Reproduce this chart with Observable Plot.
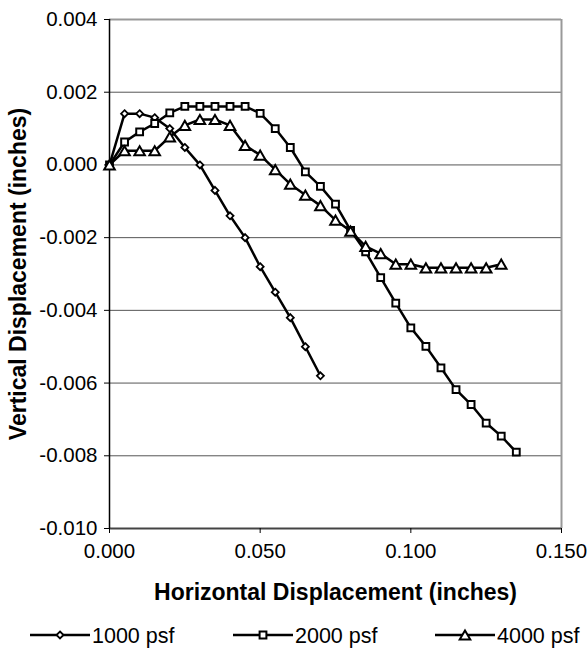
<!DOCTYPE html>
<html>
<head>
<meta charset="utf-8">
<script src="https://cdn.jsdelivr.net/npm/d3@7"></script>
<script src="https://cdn.jsdelivr.net/npm/@observablehq/plot@0.6"></script>
<style>
  body { margin: 0; background: #fff; }
  #chart { width: 587px; }
  .legend { font-family: "Liberation Sans", Arial, sans-serif; }
</style>
</head>
<body>
<div id="chart"></div>
<script>
// ---- Data ----
const seriesNames = ["1000 psf", "2000 psf", "4000 psf"];

const x1000 = [0, 0.005, 0.010, 0.015, 0.020, 0.025, 0.030, 0.035, 0.040, 0.045, 0.050, 0.055, 0.060, 0.065, 0.070];
const y1000 = [0, 0.00141, 0.00141, 0.0013, 0.001, 0.00048, 0.0, -0.0007, -0.0014, -0.0020, -0.0028, -0.0035, -0.0042, -0.0050, -0.0058];

const x2000 = [0, 0.005, 0.010, 0.015, 0.020, 0.025, 0.030, 0.035, 0.040, 0.045, 0.050, 0.055, 0.060, 0.065, 0.070,
               0.075, 0.080, 0.085, 0.090, 0.095, 0.100, 0.105, 0.110, 0.115, 0.120, 0.125, 0.130, 0.135];
const y2000 = [0, 0.00063, 0.00091, 0.00114, 0.00143, 0.00161, 0.00161, 0.00161, 0.00161, 0.00161, 0.00142, 0.001, 0.00048, -0.00019, -0.00059,
               -0.00108, -0.0018, -0.00239, -0.0031, -0.0038, -0.00448, -0.00499, -0.00558, -0.00618, -0.00659, -0.0071, -0.00746, -0.0079];

const x4000 = [0, 0.005, 0.010, 0.015, 0.020, 0.025, 0.030, 0.035, 0.040, 0.045, 0.050, 0.055, 0.060, 0.065, 0.070,
               0.075, 0.080, 0.085, 0.090, 0.095, 0.100, 0.105, 0.110, 0.115, 0.120, 0.125, 0.130];
const y4000 = [0, 0.00039, 0.00039, 0.00039, 0.00077, 0.00109, 0.00125, 0.00125, 0.00109, 0.00054, 0.00027, -0.00013, -0.00053, -0.00083, -0.00112,
               -0.00152, -0.00182, -0.00224, -0.00244, -0.00273, -0.00273, -0.00283, -0.00283, -0.00283, -0.00283, -0.00283, -0.00273];

const xTicks = [0, 0.05, 0.10, 0.15];
const yTicks = [0.004, 0.002, 0, -0.002, -0.004, -0.006, -0.008, -0.010];
const gridTicks = [0.002, 0, -0.002, -0.004, -0.006, -0.008];
const xTitle = "Horizontal Displacement (inches)";
const yTitle = "Vertical Displacement (inches)";

// ---- Build ----
const toRows = (xs, ys, s) => xs.map((x, i) => ({x, y: ys[i], s}));
const d1 = toRows(x1000, y1000, seriesNames[0]);
const d2 = toRows(x2000, y2000, seriesNames[1]);
const d3s = toRows(x4000, y4000, seriesNames[2]);

const diamondSym = {draw(ctx) { const r = 3.5; ctx.moveTo(0, -r); ctx.lineTo(r, 0); ctx.lineTo(0, r); ctx.lineTo(-r, 0); ctx.closePath(); }};
const squareSym = {draw(ctx) { const r = 3.4; ctx.moveTo(-r, -r); ctx.lineTo(r, -r); ctx.lineTo(r, r); ctx.lineTo(-r, r); ctx.closePath(); }};
const triangleSym = {draw(ctx) { const w = 5.3, h = 4.6; ctx.moveTo(0, -h); ctx.lineTo(w, h); ctx.lineTo(-w, h); ctx.closePath(); }};

const fmt = d => d.toFixed(3);
const font = "'Liberation Sans', Arial, sans-serif";

const lineOpts = {x: "x", y: "y", stroke: "#000", strokeWidth: 2.5};
const dotOpts = (sym, sw) => ({x: "x", y: "y", symbol: sym, fill: "#fff", stroke: "#000", strokeWidth: sw, r: 4});

const plot = Plot.plot({
  width: 587,
  height: 610,
  marginLeft: 109,
  marginRight: 26,
  marginTop: 19,
  marginBottom: 82,
  style: {fontFamily: font, fontSize: "20.5px", color: "#000", background: "#fff"},
  x: {domain: [0, 0.15]},
  y: {domain: [-0.010, 0.004]},
  marks: [
    Plot.ruleY(gridTicks, {stroke: "#555", strokeWidth: 1}),
    Plot.ruleY([0.004], {stroke: "#999", strokeWidth: 2}),
    Plot.ruleX([0.15], {stroke: "#999", strokeWidth: 2}),
    Plot.ruleY([-0.010], {stroke: "#444", strokeWidth: 2}),
    Plot.ruleX([0], {stroke: "#000", strokeWidth: 1.5}),
    Plot.axisY({ticks: yTicks, tickSize: 5, tickPadding: 7, tickFormat: fmt, label: null, fontSize: 20.5}),
    Plot.axisX({ticks: xTicks, tickSize: 5, tickPadding: 10, tickFormat: fmt, label: null, fontSize: 20.5}),
    Plot.line(d1, lineOpts),
    Plot.dot(d1, dotOpts(diamondSym, 1.8)),
    Plot.line(d2, lineOpts),
    Plot.dot(d2, dotOpts(squareSym, 2)),
    Plot.line(d3s, lineOpts),
    Plot.dot(d3s, dotOpts(triangleSym, 2)),
    Plot.text([xTitle], {frameAnchor: "bottom", dy: 64, fontWeight: "bold", fontSize: 23, lineAnchor: "middle", textAnchor: "middle"}),
    Plot.text([yTitle], {frameAnchor: "left", dx: -91, rotate: -90, fontWeight: "bold", fontSize: 23, lineAnchor: "middle", textAnchor: "middle"})
  ]
});
document.getElementById("chart").appendChild(plot);

// ---- Legend ----
const legendItems = [
  {name: seriesNames[0], x: 30, sym: diamondSym, sw: 1.8},
  {name: seriesNames[1], x: 233, sym: squareSym, sw: 2},
  {name: seriesNames[2], x: 435, sym: triangleSym, sw: 2}
];
const lg = d3.select("#chart").append("svg")
  .attr("class", "legend").attr("width", 587).attr("height", 42);
for (const it of legendItems) {
  const g = lg.append("g").attr("transform", `translate(${it.x},25)`);
  g.append("line").attr("x1", 0).attr("x2", 60).attr("y1", 0).attr("y2", 0).attr("stroke", "#000").attr("stroke-width", 2.5);
  g.append("path").attr("d", d3.symbol(it.sym)()).attr("transform", "translate(30,0)")
    .attr("fill", "#fff").attr("stroke", "#000").attr("stroke-width", it.sw);
  g.append("text").attr("x", 62).attr("y", 0).attr("dy", "0.35em")
    .attr("font-size", 21.5).attr("font-family", font).text(it.name);
}
</script>
</body>
</html>
